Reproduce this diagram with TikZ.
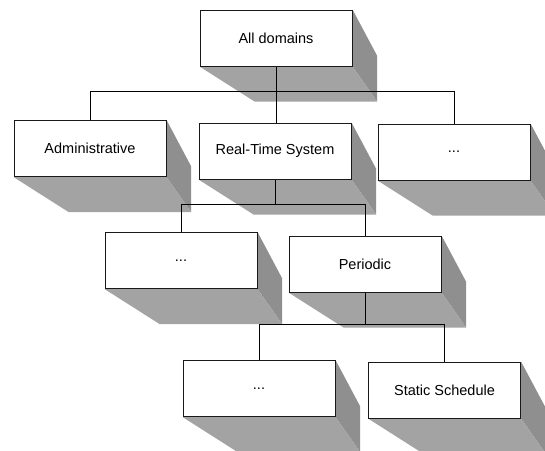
\documentclass[tikz,border=0pt]{standalone}
\usepackage{fontspec}
\setmainfont{Liberation Sans}
\usetikzlibrary{calc}
\pgfdeclarelayer{shade}
\pgfdeclarelayer{wires}
\pgfsetlayers{shade,wires,main}
\definecolor{sidegray}{RGB}{143,143,143}
\definecolor{floorgray}{RGB}{163,163,163}
\tikzset{
  block/.style={draw=black!90, line width=1pt, fill=white, inner sep=0pt,
    minimum width=152pt, minimum height=56pt, font=\fontsize{14.5}{16}\selectfont},
  wire/.style={draw=black, line width=1pt},
}
% extruded 3D shading behind a block, receding towards the lower right
\newcommand\blockshade[1]{%
  \fill[sidegray] (#1.north east) -- ($(#1.north east)+(24.6,46.2)$)
    -- ($(#1.south east)+(24.6,35)$) -- (#1.south east) -- cycle;
  \fill[floorgray] (#1.south west) -- (#1.south east)
    -- ($(#1.south east)+(24.6,35)$) -- ($(#1.south west)+(55,35)$) -- cycle;
}
\begin{document}
\begin{tikzpicture}[x=1pt, y=-1pt]
\useasboundingbox (0,0) rectangle (545,450);

\node[block] (top)   at (276,38)    {All domains};
\node[block] (adm)   at (90,148.5)  {Administrative};
\node[block] (rts)   at (275,151)   {Real-Time System};
\node[block] (dotsa) at (454,152)   {...};
\node[block] (dotsb) at (181,260.5) {...};
\node[block] (per)   at (365,264)   {Periodic};
\node[block] (dotsc) at (259,388.5) {...};
\node[block] (stat)  at (444.5,390) {Static Schedule};

\begin{pgfonlayer}{shade}
  \foreach \b in {top,adm,rts,dotsa,dotsb,per,dotsc,stat} {\blockshade{\b}}
\end{pgfonlayer}

\begin{pgfonlayer}{wires}
  \coordinate (ja) at ($(top.south)+(0,25)$);
  \coordinate (jb) at ($(rts.south)+(0,25)$);
  \coordinate (jc) at ($(per.south)+(0,32)$);
  \draw[wire] (top.south) -- (ja);
  \draw[wire] (adm.north) |- (ja) -| (dotsa.north);
  \draw[wire] (ja) -- (ja |- rts.north);
  \draw[wire] (rts.south) -- (jb);
  \draw[wire] (dotsb.north) |- (jb) -| (per.north);
  \draw[wire] (per.south) -- (jc);
  \draw[wire] (dotsc.north) |- (jc) -| (stat.north);
\end{pgfonlayer}
\end{tikzpicture}
\end{document}
